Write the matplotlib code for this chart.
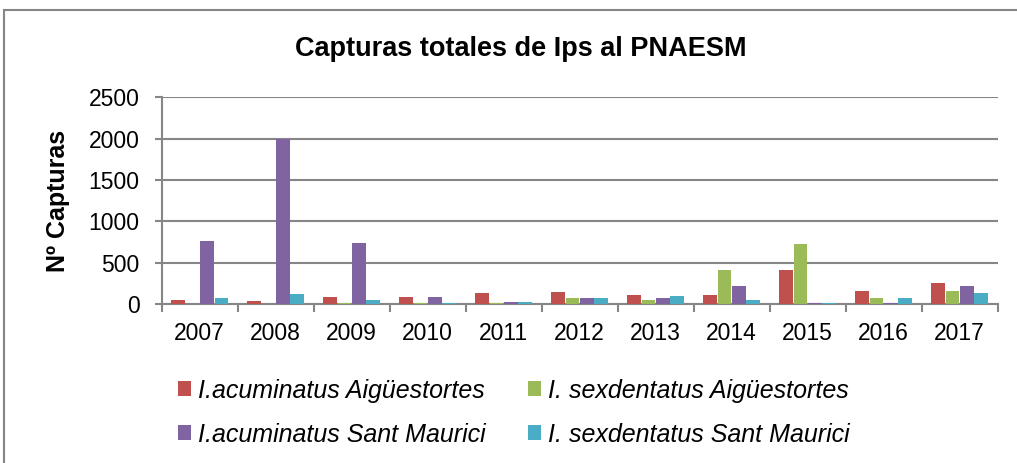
import numpy as np
import matplotlib.pyplot as plt
from matplotlib.patches import Rectangle

# Datos de capturas por año
anys = ['2007', '2008', '2009', '2010', '2011', '2012', '2013', '2014', '2015', '2016', '2017']
acum_aig = [45, 35, 85, 85, 130, 150, 115, 115, 410, 165, 255]
sexd_aig = [0, 0, 15, 15, 10, 80, 45, 410, 725, 75, 155]
acum_sm = [760, 2000, 740, 85, 30, 80, 70, 215, 15, 10, 215]
sexd_sm = [80, 120, 55, 10, 30, 80, 95, 55, 20, 80, 130]

series = [
    ('I.acuminatus Aigüestortes', acum_aig, '#C0504D'),
    ('I. sexdentatus Aigüestortes', sexd_aig, '#9BBB59'),
    ('I.acuminatus Sant Maurici', acum_sm, '#8064A2'),
    ('I. sexdentatus Sant Maurici', sexd_sm, '#4BACC6'),
]

plt.rcParams['font.family'] = ['Liberation Sans', 'DejaVu Sans']

fig = plt.figure(figsize=(10.17, 4.63), dpi=100)
ax = fig.add_axes([0.159, 0.343, 0.822, 0.447])

x = np.arange(len(anys))
ancho = 0.19
barras = []
for i, (nom, vals, col) in enumerate(series):
    b = ax.bar(x + (i - 1.5) * ancho, vals, ancho * 0.95, color=col, label=nom,
               edgecolor='none', zorder=3)
    barras.append(b)

ax.set_xlim(-0.5, len(anys) - 0.5)
ax.set_ylim(0, 2500)
ax.set_yticks([0, 500, 1000, 1500, 2000, 2500])
ax.set_xticks(x)
ax.set_xticklabels(anys)
ax.set_xticks(np.arange(-0.5, len(anys)), minor=True)
ax.tick_params(axis='x', which='major', length=0, labelsize=16.5, pad=13)
ax.tick_params(axis='x', which='minor', length=6, width=1.5, color='#868686')
ax.tick_params(axis='y', length=5, width=1.5, color='#868686', labelsize=16.5, pad=11)
ax.grid(axis='y', color='#868686', linewidth=1.5, zorder=0)
for s in ['top', 'right']:
    ax.spines[s].set_visible(False)
for s in ['left', 'bottom']:
    ax.spines[s].set_color('#868686')
    ax.spines[s].set_linewidth(1.5)

ax.set_ylabel('Nº Capturas', fontsize=18, fontweight='bold')
ax.yaxis.set_label_coords(-0.110, 0.5)
fig.text(0.512, 0.895, 'Capturas totales de Ips al PNAESM', ha='center', va='center',
         fontsize=19.5, fontweight='bold')

# orden por columnas para que las filas queden como en el original
orden = [0, 2, 1, 3]
fig.legend([barras[k] for k in orden], [series[k][0] for k in orden],
           loc='center left', bbox_to_anchor=(0.163, 0.109), ncol=2, frameon=False,
           prop={'style': 'italic', 'size': 18}, handlelength=0.52, handleheight=0.52,
           handletextpad=0.28, columnspacing=1.7, labelspacing=0.8, borderpad=0)

fig.patches.append(Rectangle((4 / 1017, -0.1), 1.2, 1 - 10 / 463 + 0.1,
                             transform=fig.transFigure, fill=False,
                             edgecolor='#868686', linewidth=1.5))

fig.savefig('out.png', dpi=100)
